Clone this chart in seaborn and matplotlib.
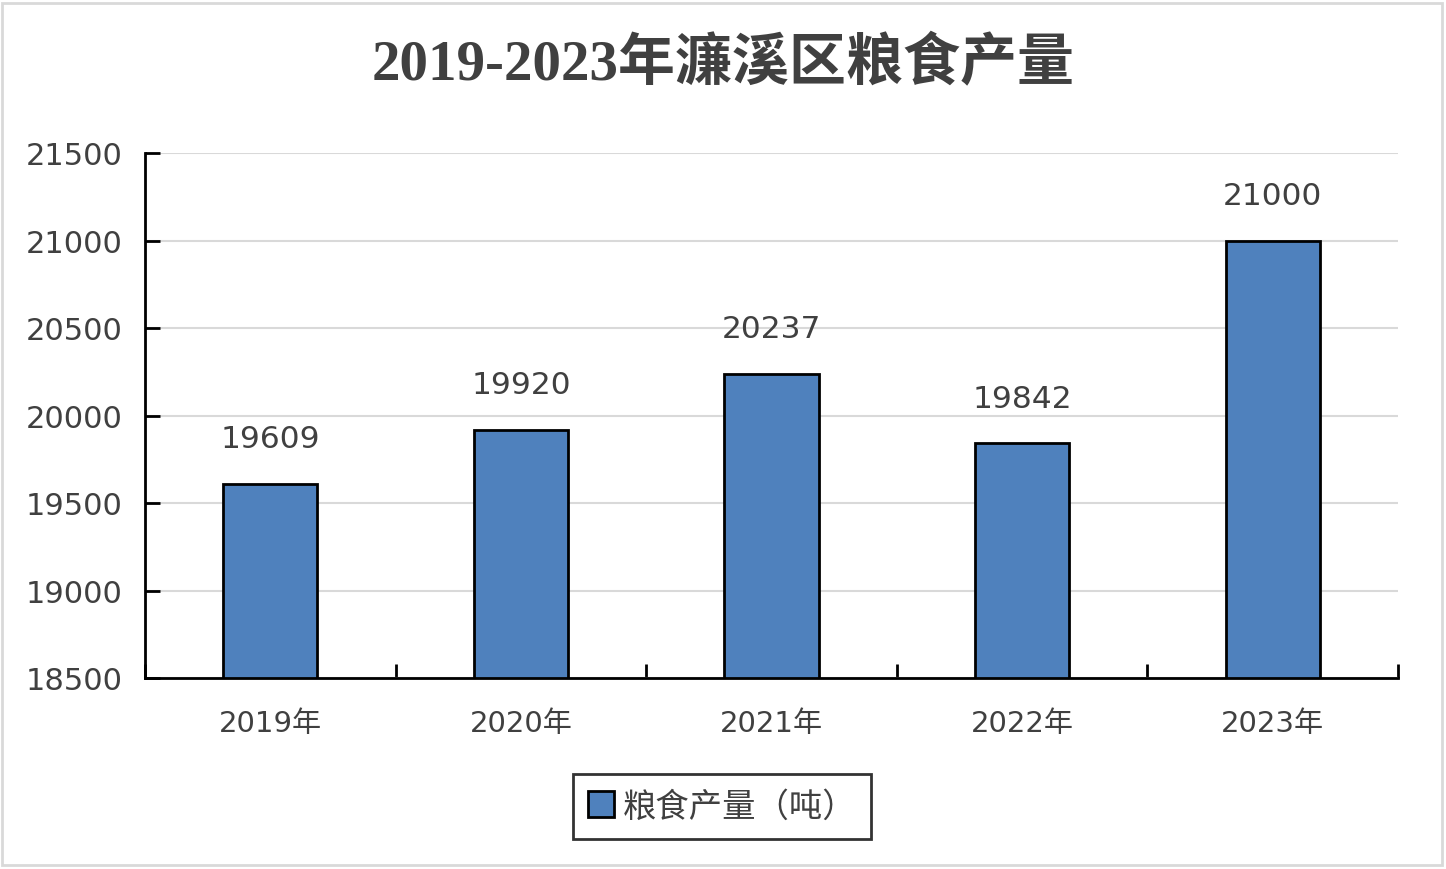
import matplotlib
matplotlib.use("Agg")
import matplotlib.pyplot as plt
import seaborn as sns
import pandas as pd
from matplotlib.patches import Rectangle

years = ["2019年", "2020年", "2021年", "2022年", "2023年"]
values = [19609, 19920, 20237, 19842, 21000]
series_name = "粮食产量（吨）"
title = "2019-2023年濂溪区粮食产量"
yticks = [18500, 19000, 19500, 20000, 20500, 21000, 21500]

sns.set_theme(style="white")
plt.rcParams['font.family'] = ['DejaVu Sans', 'Noto Sans CJK SC']

df = pd.DataFrame({"year": years, "value": values})

fig = plt.figure(figsize=(14.46, 8.70), dpi=100)
ax = fig.add_axes([145/1446, 1-679/870, (1398-145)/1446, (679-154)/870])

sns.barplot(data=df, x="year", y="value", color="#4F81BD", edgecolor="black",
            linewidth=2, width=0.376, saturation=1, label=series_name, ax=ax)

ax.set_ylim(18500, 21500)
ax.set_xlim(-0.5, 4.5)
ax.set_yticks(yticks)
ax.set_yticklabels([str(v) for v in yticks], fontsize=22, color="#404040")
ax.yaxis.grid(True, color="#D9D9D9", linewidth=1.5)
ax.set_axisbelow(True)
ax.set_xlabel("")
ax.set_ylabel("")

ax.tick_params(axis='y', direction='in', length=11, width=2, color='black', pad=16, left=True)
ax.tick_params(axis='x', which='major', length=0, pad=22, labelsize=21, labelcolor="#404040")
ax.set_xticks([i - 0.5 for i in range(len(years) + 1)], minor=True)
ax.tick_params(axis='x', which='minor', direction='in', length=10, width=2, color='black', bottom=True)

for s in ["top", "right"]:
    ax.spines[s].set_visible(False)
for s in ["left", "bottom"]:
    ax.spines[s].set_color("black")
    ax.spines[s].set_linewidth(2)

for c in ax.containers:
    ax.bar_label(c, labels=[str(v) for v in values], padding=22, fontsize=22.5, color="#404040")

fig.suptitle(title, x=0.5, y=1-65/870, va='center', fontsize=41, fontweight='bold',
             color="#404040", family=['Liberation Serif', 'Noto Sans CJK SC'])

leg = fig.legend(loc='center', bbox_to_anchor=(722/1446, 1-807/870),
                 prop={'family': ['Noto Sans CJK SC'], 'size': 24},
                 frameon=True, fancybox=False, edgecolor='black', handlelength=0.8,
                 handleheight=0.8, handletextpad=0.25, borderpad=0.45, borderaxespad=0)
leg.get_frame().set_linewidth(2)
for t in leg.get_texts():
    t.set_color("#404040")
if ax.get_legend() is not None:
    ax.get_legend().remove()

fig.patches.append(Rectangle((2/1446, 4/870), 1440/1446, 862/870, transform=fig.transFigure,
                             fill=False, edgecolor="#D9D9D9", linewidth=2))

fig.savefig("out.png", dpi=100)
